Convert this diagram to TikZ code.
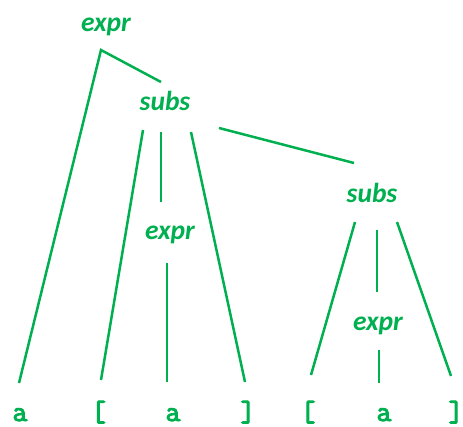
\documentclass[tikz,border=0pt]{standalone}
\usepackage{fontspec}
\setmainfont{Carlito}
\newfontfamily\termfont[FakeBold=3.5]{Latin Modern Mono}
\definecolor{tgreen}{HTML}{00B050}
\begin{document}
\begin{tikzpicture}[x=1pt,y=-1pt,
  nt/.style={inner sep=0pt,anchor=base,text=tgreen,font=\fontsize{27.5}{30}\selectfont\bfseries\itshape},
  tm/.style={inner sep=0pt,anchor=base,text=tgreen,font=\fontsize{29}{30}\selectfont\termfont},
  edge/.style={draw=tgreen,line width=2.5pt}]
\useasboundingbox (0,0) rectangle (463,426);
% nonterminals
\node[nt] (e1) at (106,31) {expr};
\node[nt] (s1) at (165,110) {subs};
\node[nt] (e2) at (170,239) {expr};
\node[nt] (s2) at (372,202) {subs};
\node[nt] (e3) at (378,330) {expr};
% terminals
\node[tm] (t1) at (20,421) {a};
\node[tm] (t2) at (98.5,421) {[};
\node[tm] (t3) at (173,421) {a};
\node[tm] (t4) at (248,421) {]};
\node[tm] (t5) at (308,421) {[};
\node[tm] (t6) at (384,421) {a};
\node[tm] (t7) at (456,421) {]};
% connectors
\draw[edge] ([shift={(-4,-28)}]s1.base) -- ([shift={(-5,19)}]e1.base) -- ([shift={(-1,-38)}]t1.base);
\draw[edge] ([shift={(-22,20)}]s1.base) -- ([shift={(2.5,-41)}]t2.base);
\draw[edge] ([shift={(-4,22)}]s1.base) -- ([shift={(-9,-37)}]e2.base);
\draw[edge] ([shift={(26,22)}]s1.base) -- ([shift={(-3,-39)}]t4.base);
\draw[edge] ([shift={(54,18)}]s1.base) -- ([shift={(-18,-39)}]s2.base);
\draw[edge] ([shift={(-3,24)}]e2.base) -- ([shift={(-6,-39)}]t3.base);
\draw[edge] ([shift={(-17,20)}]s2.base) -- ([shift={(3,-46)}]t5.base);
\draw[edge] ([shift={(5,28)}]s2.base) -- ([shift={(-1,-38)}]e3.base);
\draw[edge] ([shift={(25,20)}]s2.base) -- ([shift={(-5,-45)}]t7.base);
\draw[edge] ([shift={(1,20)}]e3.base) -- ([shift={(-5,-38)}]t6.base);
\end{tikzpicture}
\end{document}
